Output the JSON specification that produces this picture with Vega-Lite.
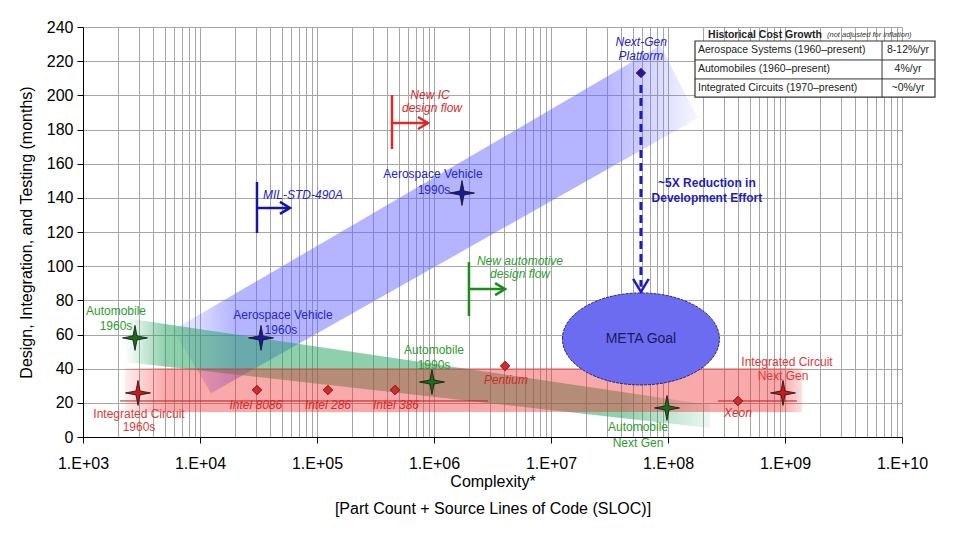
{
  "$schema": "https://vega.github.io/schema/vega-lite/v6.json",
  "width": 819,
  "height": 410,
  "autosize": "none",
  "padding": {"left": 83, "top": 27, "right": 53, "bottom": 96},
  "background": "white",
  "config": {"font": "Liberation Sans", "view": {"stroke": null}, "axis": {"labelOverlap": false}, "axisY": {"labelOverlap": false, "labelFontSize": 16, "labelColor": "black"}},
  "datasets": {
    "blueband": [
      {"x": 5880, "lo": 62.6, "hi": 62.6},
      {"x": 12420, "lo": 25.6, "hi": 75.6},
      {"x": 85500000, "lo": 174.1, "hi": 229.1},
      {"x": 180500000, "lo": 186.7, "hi": 186.7}
    ],
    "greenband": [{"x": 2286, "lo": 43.9, "hi": 69.7}, {"x": 228600000, "lo": 5.3, "hi": 18.7}],
    "redband": [{"x": 2286, "lo": 14.6, "hi": 40.4}, {"x": 1397000000, "lo": 14.6, "hi": 40.4}],
    "icline": [{"x": 2070, "x2": 2894000, "y": 21.1}, {"x": 267000000, "x2": 1267000000, "y": 21.1}],
    "rules": [
      {"kind": "aero", "x": 30690, "x2": 30690, "y": 119.4, "y2": 149.3},
      {"kind": "aero", "x": 30690, "x2": 58000, "y": 134.1, "y2": 134.1},
      {"kind": "ic", "x": 437500, "x2": 437500, "y": 168.6, "y2": 200.2},
      {"kind": "ic", "x": 437500, "x2": 880000, "y": 183.8, "y2": 183.8},
      {"kind": "auto", "x": 1990000, "x2": 1990000, "y": 70.8, "y2": 102.4},
      {"kind": "auto", "x": 1990000, "x2": 4000000, "y": 86.6, "y2": 86.6}
    ],
    "arrowheads": [
      {"kind": "aero", "x": 58700, "y": 134.1},
      {"kind": "ic", "x": 889000, "y": 183.8},
      {"kind": "auto", "x": 4050000, "y": 86.6}
    ],
    "dashed": [{"x": 58700000, "y": 206, "y2": 88}],
    "downhead": [{"x": 58700000, "y": 85}],
    "goal": [{"x": 58700000, "y": 57.4, "text": "META Goal"}],
    "stars": [
      {"kind": "auto", "x": 2782, "y": 58},
      {"kind": "aero", "x": 33220, "y": 58},
      {"kind": "ic", "x": 2951, "y": 25.8},
      {"kind": "auto", "x": 961000, "y": 32.2},
      {"kind": "aero", "x": 1735000, "y": 142.8},
      {"kind": "auto", "x": 98000000, "y": 17},
      {"kind": "ic", "x": 962000000, "y": 25.8}
    ],
    "diamonds": [
      {"kind": "ic", "x": 30690, "y": 27.5},
      {"kind": "ic", "x": 124100, "y": 27.5},
      {"kind": "ic", "x": 464500, "y": 27.5},
      {"kind": "ic", "x": 4050000, "y": 41.6},
      {"kind": "ic", "x": 396000000, "y": 21.1},
      {"kind": "aero", "x": 58700000, "y": 213.1}
    ],
    "labels": [
      {"kind": "auto", "text": "Automobile", "x": 1915, "y": 73.8},
      {"kind": "auto", "text": "1960s", "x": 1915, "y": 65.0},
      {"kind": "aero", "text": "Aerospace Vehicle", "x": 51170, "y": 71.4},
      {"kind": "aero", "text": "1960s", "x": 49200, "y": 62.6},
      {"kind": "ic", "text": "Integrated Circuit", "x": 3010, "y": 13.5},
      {"kind": "ic", "text": "1960s", "x": 3010, "y": 5.9},
      {"kind": "auto", "text": "Automobile", "x": 1000000, "y": 50.9},
      {"kind": "auto", "text": "1990s", "x": 1000000, "y": 42.1},
      {"kind": "aero", "text": "Aerospace Vehicle", "x": 980000, "y": 154},
      {"kind": "aero", "text": "1990s", "x": 1000000, "y": 144.6},
      {"kind": "auto", "text": "Automobile", "x": 55400000, "y": 5.85},
      {"kind": "auto", "text": "Next Gen", "x": 55400000, "y": -3.5},
      {"kind": "ic", "text": "Integrated Circuit", "x": 1040000000, "y": 43.9},
      {"kind": "ic", "text": "Next Gen", "x": 962000000, "y": 35.7}
    ],
    "italics": [
      {"kind": "ic", "text": "Intel 8086", "x": 30000, "y": 18.7},
      {"kind": "ic", "text": "Intel 286", "x": 124100, "y": 18.7},
      {"kind": "ic", "text": "Intel 386", "x": 473000, "y": 18.7},
      {"kind": "ic", "text": "Pentium", "x": 4120000, "y": 33.4},
      {"kind": "ic", "text": "Xeon", "x": 396000000, "y": 14.0},
      {"kind": "aero", "text": "Next-Gen", "x": 59000000, "y": 231.2},
      {"kind": "aero", "text": "Platform", "x": 58700000, "y": 223.0},
      {"kind": "aero", "text": "MIL-STD-490A", "x": 75900, "y": 141.7},
      {"kind": "ic", "text": "New IC", "x": 925000, "y": 200.2},
      {"kind": "ic", "text": "design flow", "x": 961000, "y": 192.6},
      {"kind": "auto", "text": "New automotive", "x": 5430000, "y": 103},
      {"kind": "auto", "text": "design flow", "x": 5430000, "y": 95.4}
    ],
    "bold": [
      {"text": "~5X Reduction in", "x": 215000000, "y": 148.7},
      {"text": "Development Effort", "x": 215000000, "y": 139.9}
    ],
    "tablebox": [{"x": 170100000, "x2": 19140000000, "y": 199.0, "y2": 231.8}],
    "tablelines": [
      {"x": 170100000, "x2": 19140000000, "y": 220.7, "y2": 220.7},
      {"x": 170100000, "x2": 19140000000, "y": 209.6, "y2": 209.6},
      {"x": 6750000000, "x2": 6750000000, "y": 199.0, "y2": 231.8}
    ],
    "tabletext": [
      {"text": "Aerospace Systems  (1960–present)", "x": 180500000, "y": 226.3},
      {"text": "Automobiles (1960–present)", "x": 180500000, "y": 215.2},
      {"text": "Integrated Circuits (1970–present)", "x": 180500000, "y": 204.4}
    ],
    "tablevals": [
      {"text": "8-12%/yr", "x": 11250000000, "y": 226.3},
      {"text": "4%/yr", "x": 11250000000, "y": 215.2},
      {"text": "~0%/yr", "x": 11250000000, "y": 204.4}
    ],
    "tabletitle": [{"text": "Historical Cost Growth", "x": 220000000, "y": 235.3}],
    "tablenote": [{"text": "(not adjusted for inflation)", "x": 2285000000, "y": 235.3}]
  },
  "resolve": {"scale": {"color": "independent"}},
  "layer": [
    {
      "data": {"name": "blueband"},
      "mark": {"type": "area", "color": {"gradient": "linear", "x1": 0, "y1": 0, "x2": 1, "y2": 0, "stops": [
        {"offset": 0, "color": "rgba(96,96,255,0.08)"},
        {"offset": 0.12, "color": "rgba(96,96,255,0.47)"},
        {"offset": 0.82, "color": "rgba(96,96,255,0.47)"},
        {"offset": 1, "color": "rgba(96,96,255,0.05)"}]}},
      "encoding": {
        "x": {"field": "x", "type": "quantitative", "scale": {"type": "log", "domain": [1000, 10000000000]},
          "axis": {
            "values": [1000, 2000, 3000, 4000, 5000, 6000, 7000, 8000, 9000, 10000, 20000, 30000, 40000, 50000, 60000, 70000, 80000, 90000, 100000, 200000, 300000, 400000, 500000, 600000, 700000, 800000, 900000, 1000000, 2000000, 3000000, 4000000, 5000000, 6000000, 7000000, 8000000, 9000000, 10000000, 20000000, 30000000, 40000000, 50000000, 60000000, 70000000, 80000000, 90000000, 100000000, 200000000, 300000000, 400000000, 500000000, 600000000, 700000000, 800000000, 900000000, 1000000000, 2000000000, 3000000000, 4000000000, 5000000000, 6000000000, 7000000000, 8000000000, 9000000000, 10000000000],
            "grid": true, "gridColor": "#a6a6a6", "gridWidth": 1,
            "labelExpr": "abs(datum.value/pow(10, round(log(datum.value)/LN10)) - 1) < 0.01 ? '1.E+' + (round(log(datum.value)/LN10) < 10 ? '0' : '') + round(log(datum.value)/LN10) : ''",
            "tickOpacity": {"condition": {"test": "abs(datum.value/pow(10, round(log(datum.value)/LN10)) - 1) < 0.01", "value": 1}, "value": 0},
            "tickSize": 6, "tickColor": "black", "domainColor": "black",
            "labelFontSize": 16, "labelColor": "black", "labelPadding": 12, "labelFlush": false, "labelOverlap": false, "labelBound": false,
            "title": ["Complexity*", "[Part Count + Source Lines of Code (SLOC)]"],
            "titleFontSize": 16, "titleFontWeight": "normal", "titleColor": "black", "titlePadding": 2, "titleLineHeight": 27
          }},
        "y": {"field": "lo", "type": "quantitative", "scale": {"domain": [0, 240], "nice": false},
          "axis": {
            "values": [0, 20, 40, 60, 80, 100, 120, 140, 160, 180, 200, 220, 240],
            "tickCount": 13,
            "grid": true, "gridColor": "#a6a6a6", "tickSize": 6, "tickColor": "black", "domainColor": "black",
            "labelFontSize": 16, "labelColor": "black", "labelPadding": 4, "labelOverlap": false, "labelFlush": false,
            "title": "Design, Integration, and Testing (months)",
            "titleFontSize": 16, "titleFontWeight": "normal", "titleColor": "black", "titlePadding": 12
          }},
        "y2": {"field": "hi"}
      }
    },
    {
      "data": {"name": "greenband"},
      "mark": {"type": "area", "color": {"gradient": "linear", "x1": 0, "y1": 0, "x2": 1, "y2": 0, "stops": [
        {"offset": 0, "color": "rgba(30,160,90,0.0)"},
        {"offset": 0.07, "color": "rgba(30,160,90,0.5)"},
        {"offset": 0.85, "color": "rgba(30,160,90,0.5)"},
        {"offset": 1, "color": "rgba(30,160,90,0.08)"}]}},
      "encoding": {
        "x": {"field": "x", "type": "quantitative", "scale": {"type": "log", "domain": [1000, 10000000000]}},
        "y": {"field": "lo", "type": "quantitative", "scale": {"domain": [0, 240], "nice": false}},
        "y2": {"field": "hi"}
      }
    },
    {
      "data": {"name": "redband"},
      "mark": {"type": "area", "color": {"gradient": "linear", "x1": 0, "y1": 0, "x2": 1, "y2": 0, "stops": [
        {"offset": 0, "color": "rgba(240,40,40,0.08)"},
        {"offset": 0.06, "color": "rgba(240,40,40,0.4)"},
        {"offset": 0.97, "color": "rgba(240,40,40,0.4)"},
        {"offset": 1, "color": "rgba(240,40,40,0.15)"}]}},
      "encoding": {
        "x": {"field": "x", "type": "quantitative", "scale": {"type": "log", "domain": [1000, 10000000000]}},
        "y": {"field": "lo", "type": "quantitative", "scale": {"domain": [0, 240], "nice": false}},
        "y2": {"field": "hi"}
      }
    },
    {
      "data": {"name": "icline"},
      "mark": {"type": "rule", "color": "#b82020", "strokeWidth": 1},
      "encoding": {
        "x": {"field": "x", "type": "quantitative", "scale": {"type": "log", "domain": [1000, 10000000000]}},
        "x2": {"field": "x2"},
        "y": {"field": "y", "type": "quantitative", "scale": {"domain": [0, 240], "nice": false}}
      }
    },
    {
      "data": {"name": "rules"},
      "mark": {"type": "rule", "strokeWidth": 2.5},
      "encoding": {
        "x": {"field": "x", "type": "quantitative", "scale": {"type": "log", "domain": [1000, 10000000000]}},
        "x2": {"field": "x2"},
        "y": {"field": "y", "type": "quantitative", "scale": {"domain": [0, 240], "nice": false}},
        "y2": {"field": "y2"},
        "color": {"field": "kind", "type": "nominal", "scale": {"domain": ["aero", "auto", "ic"], "range": ["#1414a8", "#1a8c1a", "#e02828"]}, "legend": null}
      }
    },
    {
      "data": {"name": "arrowheads"},
      "mark": {"type": "point", "shape": "M-1,-0.6L0,0L-1,0.6", "filled": false, "size": 400, "strokeWidth": 2.5, "opacity": 1},
      "encoding": {
        "x": {"field": "x", "type": "quantitative", "scale": {"type": "log", "domain": [1000, 10000000000]}},
        "y": {"field": "y", "type": "quantitative", "scale": {"domain": [0, 240], "nice": false}},
        "color": {"field": "kind", "type": "nominal", "scale": {"domain": ["aero", "auto", "ic"], "range": ["#1414a8", "#1a8c1a", "#e02828"]}, "legend": null}
      }
    },
    {
      "data": {"name": "goal"},
      "mark": {"type": "point", "shape": "M-1,0C-1,-0.3235,-0.552,-0.586,0,-0.586C0.552,-0.586,1,-0.3235,1,0C1,0.3235,0.552,0.586,0,0.586C-0.552,0.586,-1,0.3235,-1,0Z", "filled": true, "size": 24649, "fill": "#6c6cf0", "stroke": "#2a2a70", "strokeWidth": 1, "opacity": 1, "strokeDash": [3, 1]},
      "encoding": {
        "x": {"field": "x", "type": "quantitative", "scale": {"type": "log", "domain": [1000, 10000000000]}},
        "y": {"field": "y", "type": "quantitative", "scale": {"domain": [0, 240], "nice": false}}
      }
    },
    {
      "data": {"name": "goal"},
      "mark": {"type": "text", "fontSize": 14, "color": "#1a1a60", "align": "center", "baseline": "middle"},
      "encoding": {
        "x": {"field": "x", "type": "quantitative", "scale": {"type": "log", "domain": [1000, 10000000000]}},
        "y": {"field": "y", "type": "quantitative", "scale": {"domain": [0, 240], "nice": false}},
        "text": {"field": "text"}
      }
    },
    {
      "data": {"name": "dashed"},
      "mark": {"type": "rule", "color": "#1a1ad0", "strokeWidth": 3, "strokeDash": [8, 5]},
      "encoding": {
        "x": {"field": "x", "type": "quantitative", "scale": {"type": "log", "domain": [1000, 10000000000]}},
        "y": {"field": "y", "type": "quantitative", "scale": {"domain": [0, 240], "nice": false}},
        "y2": {"field": "y2"}
      }
    },
    {
      "data": {"name": "downhead"},
      "mark": {"type": "point", "shape": "M-0.6,-1L0,0L0.6,-1", "filled": false, "size": 676, "strokeWidth": 2.5, "color": "#1a1ad0", "opacity": 1},
      "encoding": {
        "x": {"field": "x", "type": "quantitative", "scale": {"type": "log", "domain": [1000, 10000000000]}},
        "y": {"field": "y", "type": "quantitative", "scale": {"domain": [0, 240], "nice": false}}
      }
    },
    {
      "data": {"name": "stars"},
      "mark": {"type": "point", "shape": "M0,-1L0.16,-0.16L1,0L0.16,0.16L0,1L-0.16,0.16L-1,0L-0.16,-0.16Z", "filled": true, "size": 625, "stroke": "#111111", "strokeWidth": 0.8, "opacity": 1},
      "encoding": {
        "x": {"field": "x", "type": "quantitative", "scale": {"type": "log", "domain": [1000, 10000000000]}},
        "y": {"field": "y", "type": "quantitative", "scale": {"domain": [0, 240], "nice": false}},
        "color": {"field": "kind", "type": "nominal", "scale": {"domain": ["aero", "auto", "ic"], "range": ["#1a1a9a", "#1a6e1a", "#cc1a1a"]}, "legend": null}
      }
    },
    {
      "data": {"name": "diamonds"},
      "mark": {"type": "point", "shape": "diamond", "filled": true, "size": 90, "stroke": "#6a0000", "strokeWidth": 0.8, "opacity": 1},
      "encoding": {
        "x": {"field": "x", "type": "quantitative", "scale": {"type": "log", "domain": [1000, 10000000000]}},
        "y": {"field": "y", "type": "quantitative", "scale": {"domain": [0, 240], "nice": false}},
        "color": {"field": "kind", "type": "nominal", "scale": {"domain": ["aero", "ic"], "range": ["#1a1aa8", "#d42a2a"]}, "legend": null}
      }
    },
    {
      "data": {"name": "labels"},
      "mark": {"type": "text", "fontSize": 12, "align": "center", "baseline": "middle"},
      "encoding": {
        "x": {"field": "x", "type": "quantitative", "scale": {"type": "log", "domain": [1000, 10000000000]}},
        "y": {"field": "y", "type": "quantitative", "scale": {"domain": [0, 240], "nice": false}},
        "text": {"field": "text"},
        "color": {"field": "kind", "type": "nominal", "scale": {"domain": ["aero", "auto", "ic"], "range": ["#2525c8", "#2e9b2e", "#d93a3a"]}, "legend": null}
      }
    },
    {
      "data": {"name": "italics"},
      "mark": {"type": "text", "fontSize": 12, "fontStyle": "italic", "align": "center", "baseline": "middle"},
      "encoding": {
        "x": {"field": "x", "type": "quantitative", "scale": {"type": "log", "domain": [1000, 10000000000]}},
        "y": {"field": "y", "type": "quantitative", "scale": {"domain": [0, 240], "nice": false}},
        "text": {"field": "text"},
        "color": {"field": "kind", "type": "nominal", "scale": {"domain": ["aero", "auto", "ic"], "range": ["#2525c8", "#2e9b2e", "#d42a2a"]}, "legend": null}
      }
    },
    {
      "data": {"name": "bold"},
      "mark": {"type": "text", "fontSize": 12, "fontWeight": "bold", "align": "center", "baseline": "middle", "color": "#1e1eb4"},
      "encoding": {
        "x": {"field": "x", "type": "quantitative", "scale": {"type": "log", "domain": [1000, 10000000000]}},
        "y": {"field": "y", "type": "quantitative", "scale": {"domain": [0, 240], "nice": false}},
        "text": {"field": "text"}
      }
    },
    {
      "data": {"name": "tablebox"},
      "mark": {"type": "rect", "fill": "white", "stroke": "#333333", "strokeWidth": 1.2},
      "encoding": {
        "x": {"field": "x", "type": "quantitative", "scale": {"type": "log", "domain": [1000, 10000000000]}},
        "x2": {"field": "x2"},
        "y": {"field": "y", "type": "quantitative", "scale": {"domain": [0, 240], "nice": false}},
        "y2": {"field": "y2"}
      }
    },
    {
      "data": {"name": "tablelines"},
      "mark": {"type": "rule", "color": "#333333", "strokeWidth": 1},
      "encoding": {
        "x": {"field": "x", "type": "quantitative", "scale": {"type": "log", "domain": [1000, 10000000000]}},
        "x2": {"field": "x2"},
        "y": {"field": "y", "type": "quantitative", "scale": {"domain": [0, 240], "nice": false}},
        "y2": {"field": "y2"}
      }
    },
    {
      "data": {"name": "tabletext"},
      "mark": {"type": "text", "fontSize": 10.5, "align": "left", "baseline": "middle", "color": "#222222"},
      "encoding": {
        "x": {"field": "x", "type": "quantitative", "scale": {"type": "log", "domain": [1000, 10000000000]}},
        "y": {"field": "y", "type": "quantitative", "scale": {"domain": [0, 240], "nice": false}},
        "text": {"field": "text"}
      }
    },
    {
      "data": {"name": "tablevals"},
      "mark": {"type": "text", "fontSize": 10.5, "align": "center", "baseline": "middle", "color": "#222222"},
      "encoding": {
        "x": {"field": "x", "type": "quantitative", "scale": {"type": "log", "domain": [1000, 10000000000]}},
        "y": {"field": "y", "type": "quantitative", "scale": {"domain": [0, 240], "nice": false}},
        "text": {"field": "text"}
      }
    },
    {
      "data": {"name": "tabletitle"},
      "mark": {"type": "text", "fontSize": 10.5, "fontWeight": "bold", "align": "left", "baseline": "middle", "color": "#222222"},
      "encoding": {
        "x": {"field": "x", "type": "quantitative", "scale": {"type": "log", "domain": [1000, 10000000000]}},
        "y": {"field": "y", "type": "quantitative", "scale": {"domain": [0, 240], "nice": false}},
        "text": {"field": "text"}
      }
    },
    {
      "data": {"name": "tablenote"},
      "mark": {"type": "text", "fontSize": 7.5, "fontStyle": "italic", "align": "left", "baseline": "middle", "color": "#333333"},
      "encoding": {
        "x": {"field": "x", "type": "quantitative", "scale": {"type": "log", "domain": [1000, 10000000000]}},
        "y": {"field": "y", "type": "quantitative", "scale": {"domain": [0, 240], "nice": false}},
        "text": {"field": "text"}
      }
    }
  ]
}
